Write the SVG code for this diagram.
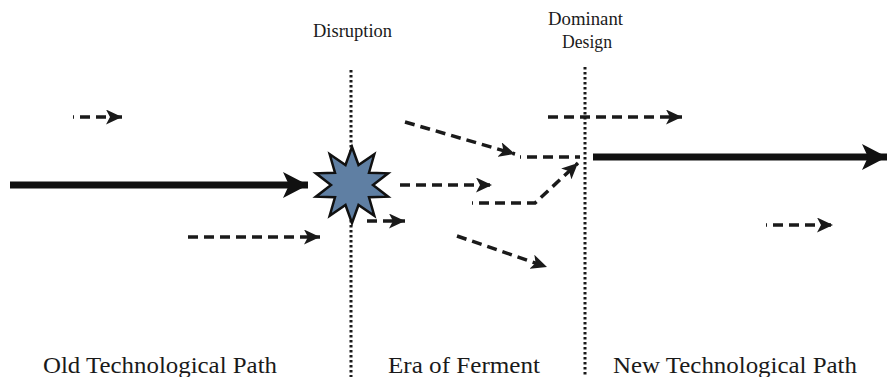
<svg xmlns="http://www.w3.org/2000/svg" width="889" height="377" viewBox="0 0 889 377">
<style>
  .lbl { font-family: "Liberation Serif", "Times New Roman", serif; fill: #1a1a1a; }
  .dash { fill: none; stroke: #1a1a1a; stroke-width: 3.5; stroke-dasharray: 10 6; }
  .dot { fill: none; stroke: #1a1a1a; stroke-width: 3; stroke-dasharray: 2.5 2.5; }
  .thick { fill: none; stroke: #111; stroke-width: 7; }
</style>
<defs>
  <marker id="ah" markerUnits="userSpaceOnUse" viewBox="0 0 17 15" refX="16" refY="7.5" markerWidth="17" markerHeight="15" orient="auto">
    <path d="M0,0 L16,7.5 L0,15 L4,7.5 Z" fill="#1a1a1a"/>
  </marker>
  <marker id="bh" markerUnits="userSpaceOnUse" viewBox="0 0 26 26" refX="25" refY="13" markerWidth="26" markerHeight="26" orient="auto">
    <path d="M0,0 L25,13 L0,26 L6,13 Z" fill="#111"/>
  </marker>
</defs>
<rect width="889" height="377" fill="#ffffff"/>

<g id="boundaries">
  <line class="dot" x1="351" y1="70" x2="351" y2="377"/>
  <line class="dot" x1="585" y1="67" x2="585" y2="377"/>
</g>

<g id="connectors">
  <line class="thick" x1="10" y1="185" x2="308" y2="185" marker-end="url(#bh)"/>
  <line class="thick" x1="593" y1="157" x2="887" y2="157" marker-end="url(#bh)"/>
  <line class="dash" x1="73" y1="117" x2="122" y2="117" stroke-dashoffset="9" marker-end="url(#ah)"/>
  <line class="dash" x1="188" y1="237" x2="320" y2="237" marker-end="url(#ah)"/>
  <line class="dash" x1="405" y1="122" x2="515" y2="154" marker-end="url(#ah)"/>
  <line class="dash" x1="520" y1="157" x2="580" y2="157" stroke-dashoffset="9"/>
  <line class="dash" x1="400" y1="185" x2="492" y2="185" marker-end="url(#ah)"/>
  <path class="dash" d="M472,203 H535 L578,163" stroke-dashoffset="9" marker-end="url(#ah)"/>
  <line class="dash" x1="367" y1="221" x2="405" y2="221" marker-end="url(#ah)"/>
  <line class="dash" x1="457" y1="236" x2="547" y2="267" marker-end="url(#ah)"/>
  <line class="dash" x1="548" y1="117" x2="682" y2="117" marker-end="url(#ah)"/>
  <line class="dash" x1="766" y1="225" x2="833" y2="225" stroke-dashoffset="9" marker-end="url(#ah)"/>
</g>

<g id="disruption-star">
  <polygon fill="#5f7fa3" stroke="#111" stroke-width="2.5" stroke-linejoin="miter"
    points="352,147 358.5,165 374.3,154.3 369,172.7 388.1,173.3 373,185 388.1,196.7 369,197.3 374.3,215.7 358.5,205 352,223 345.5,205 329.7,215.7 335,197.3 315.9,196.7 331,185 315.9,173.3 335,172.7 329.7,154.3 345.5,165"/>
</g>

<g id="label-disruption">
  <text class="lbl" x="313" y="37" font-size="18.5" textLength="79" lengthAdjust="spacingAndGlyphs">Disruption</text>
</g>
<g id="label-dominant-design">
  <text class="lbl" x="548" y="25" font-size="18.5" textLength="75" lengthAdjust="spacingAndGlyphs">Dominant</text>
  <text class="lbl" x="562" y="48" font-size="18.5" textLength="50" lengthAdjust="spacingAndGlyphs">Design</text>
</g>
<g id="label-old">
  <text class="lbl" x="43" y="373" font-size="24" textLength="234" lengthAdjust="spacingAndGlyphs">Old Technological Path</text>
</g>
<g id="label-ferment">
  <text class="lbl" x="388" y="373" font-size="24" textLength="152" lengthAdjust="spacingAndGlyphs">Era of Ferment</text>
</g>
<g id="label-new">
  <text class="lbl" x="613" y="373" font-size="24" textLength="244" lengthAdjust="spacingAndGlyphs">New Technological Path</text>
</g>
</svg>
